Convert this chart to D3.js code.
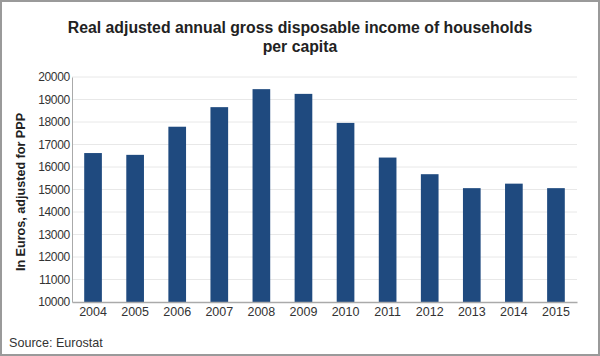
<!DOCTYPE html>
<html><head><meta charset="utf-8">
<script src="https://cdn.jsdelivr.net/npm/d3@7"></script>
<style>
html,body{margin:0;padding:0;background:#fff;}
svg{display:block;font-family:"Liberation Sans",Arial,sans-serif;}
</style></head>
<body>
<svg id="c" width="600" height="356"></svg>
<script>
const years = ["2004","2005","2006","2007","2008","2009","2010","2011","2012","2013","2014","2015"];
const incomeValues = [16620,16540,17790,18660,19460,19250,17960,16420,15680,15060,15260,15060];
const yTicks = [10000,11000,12000,13000,14000,15000,16000,17000,18000,19000,20000];
const titleLines = ["Real adjusted annual gross disposable income of households","per capita"];
const yLabel = "In Euros, adjusted for PPP";
const sourceText = "Source: Eurostat";

const svg = d3.select("#c");
const W = 600, H = 356;
const m = {left:72, right:23, top:77, bottom:54};
const x = d3.scaleBand().domain(years).range([m.left, W - m.right]).paddingInner(0.58).paddingOuter(0.29);
const y = d3.scaleLinear().domain([10000,20000]).range([H - m.bottom, m.top]);

// frame
svg.append("rect").attr("x",1).attr("y",1).attr("width",W-2).attr("height",H-2)
  .attr("fill","#fff").attr("stroke","#9a9a9a").attr("stroke-width",2);

// title
svg.append("g").selectAll("text").data(titleLines).join("text")
  .attr("x",W/2).attr("y",(d,i)=>33 + i*18.5)
  .attr("text-anchor","middle").attr("font-size",15.8).attr("font-weight","bold").attr("fill","#222")
  .text(d=>d);

// gridlines
svg.append("g").selectAll("line").data(yTicks.filter(t=>t>10000)).join("line")
  .attr("x1",m.left).attr("x2",W-m.right).attr("y1",d=>y(d)).attr("y2",d=>y(d))
  .attr("stroke","#e8e8e8").attr("stroke-width",1);

// bars
svg.append("g").selectAll("rect").data(years).join("rect")
  .attr("x",d=>x(d)).attr("width",x.bandwidth())
  .attr("y",(d,i)=>y(incomeValues[i])).attr("height",(d,i)=>y(10000)-y(incomeValues[i]))
  .attr("fill","#1f4a7f");

// y axis
const ya = d3.axisLeft(y).tickValues(yTicks).tickSize(0).tickPadding(2).tickFormat(d3.format("d"));
const gy = svg.append("g").attr("transform",`translate(${m.left},0)`).call(ya);
gy.select(".domain").attr("stroke","#aaa");
gy.selectAll("text").attr("font-size",12).attr("fill","#333").attr("font-family","Liberation Sans, Arial, sans-serif").attr("letter-spacing","-0.3");

// x axis
const xa = d3.axisBottom(x).tickSize(0).tickPadding(5);
const gx = svg.append("g").attr("transform",`translate(0,${H-m.bottom})`).call(xa);
gx.select(".domain").attr("stroke","#aaa").attr("stroke-width",1.5);
gx.selectAll("text").attr("font-size",12.5).attr("fill","#333").attr("font-family","Liberation Sans, Arial, sans-serif");

// y label
svg.append("text").attr("transform",`translate(25,192) rotate(-90)`)
  .attr("text-anchor","middle").attr("font-size",12.6).attr("font-weight","bold").attr("fill","#222")
  .text(yLabel);

// source
svg.append("text").attr("x",9).attr("y",347).attr("font-size",12.6).attr("fill","#333").text(sourceText);
</script>
</body></html>
